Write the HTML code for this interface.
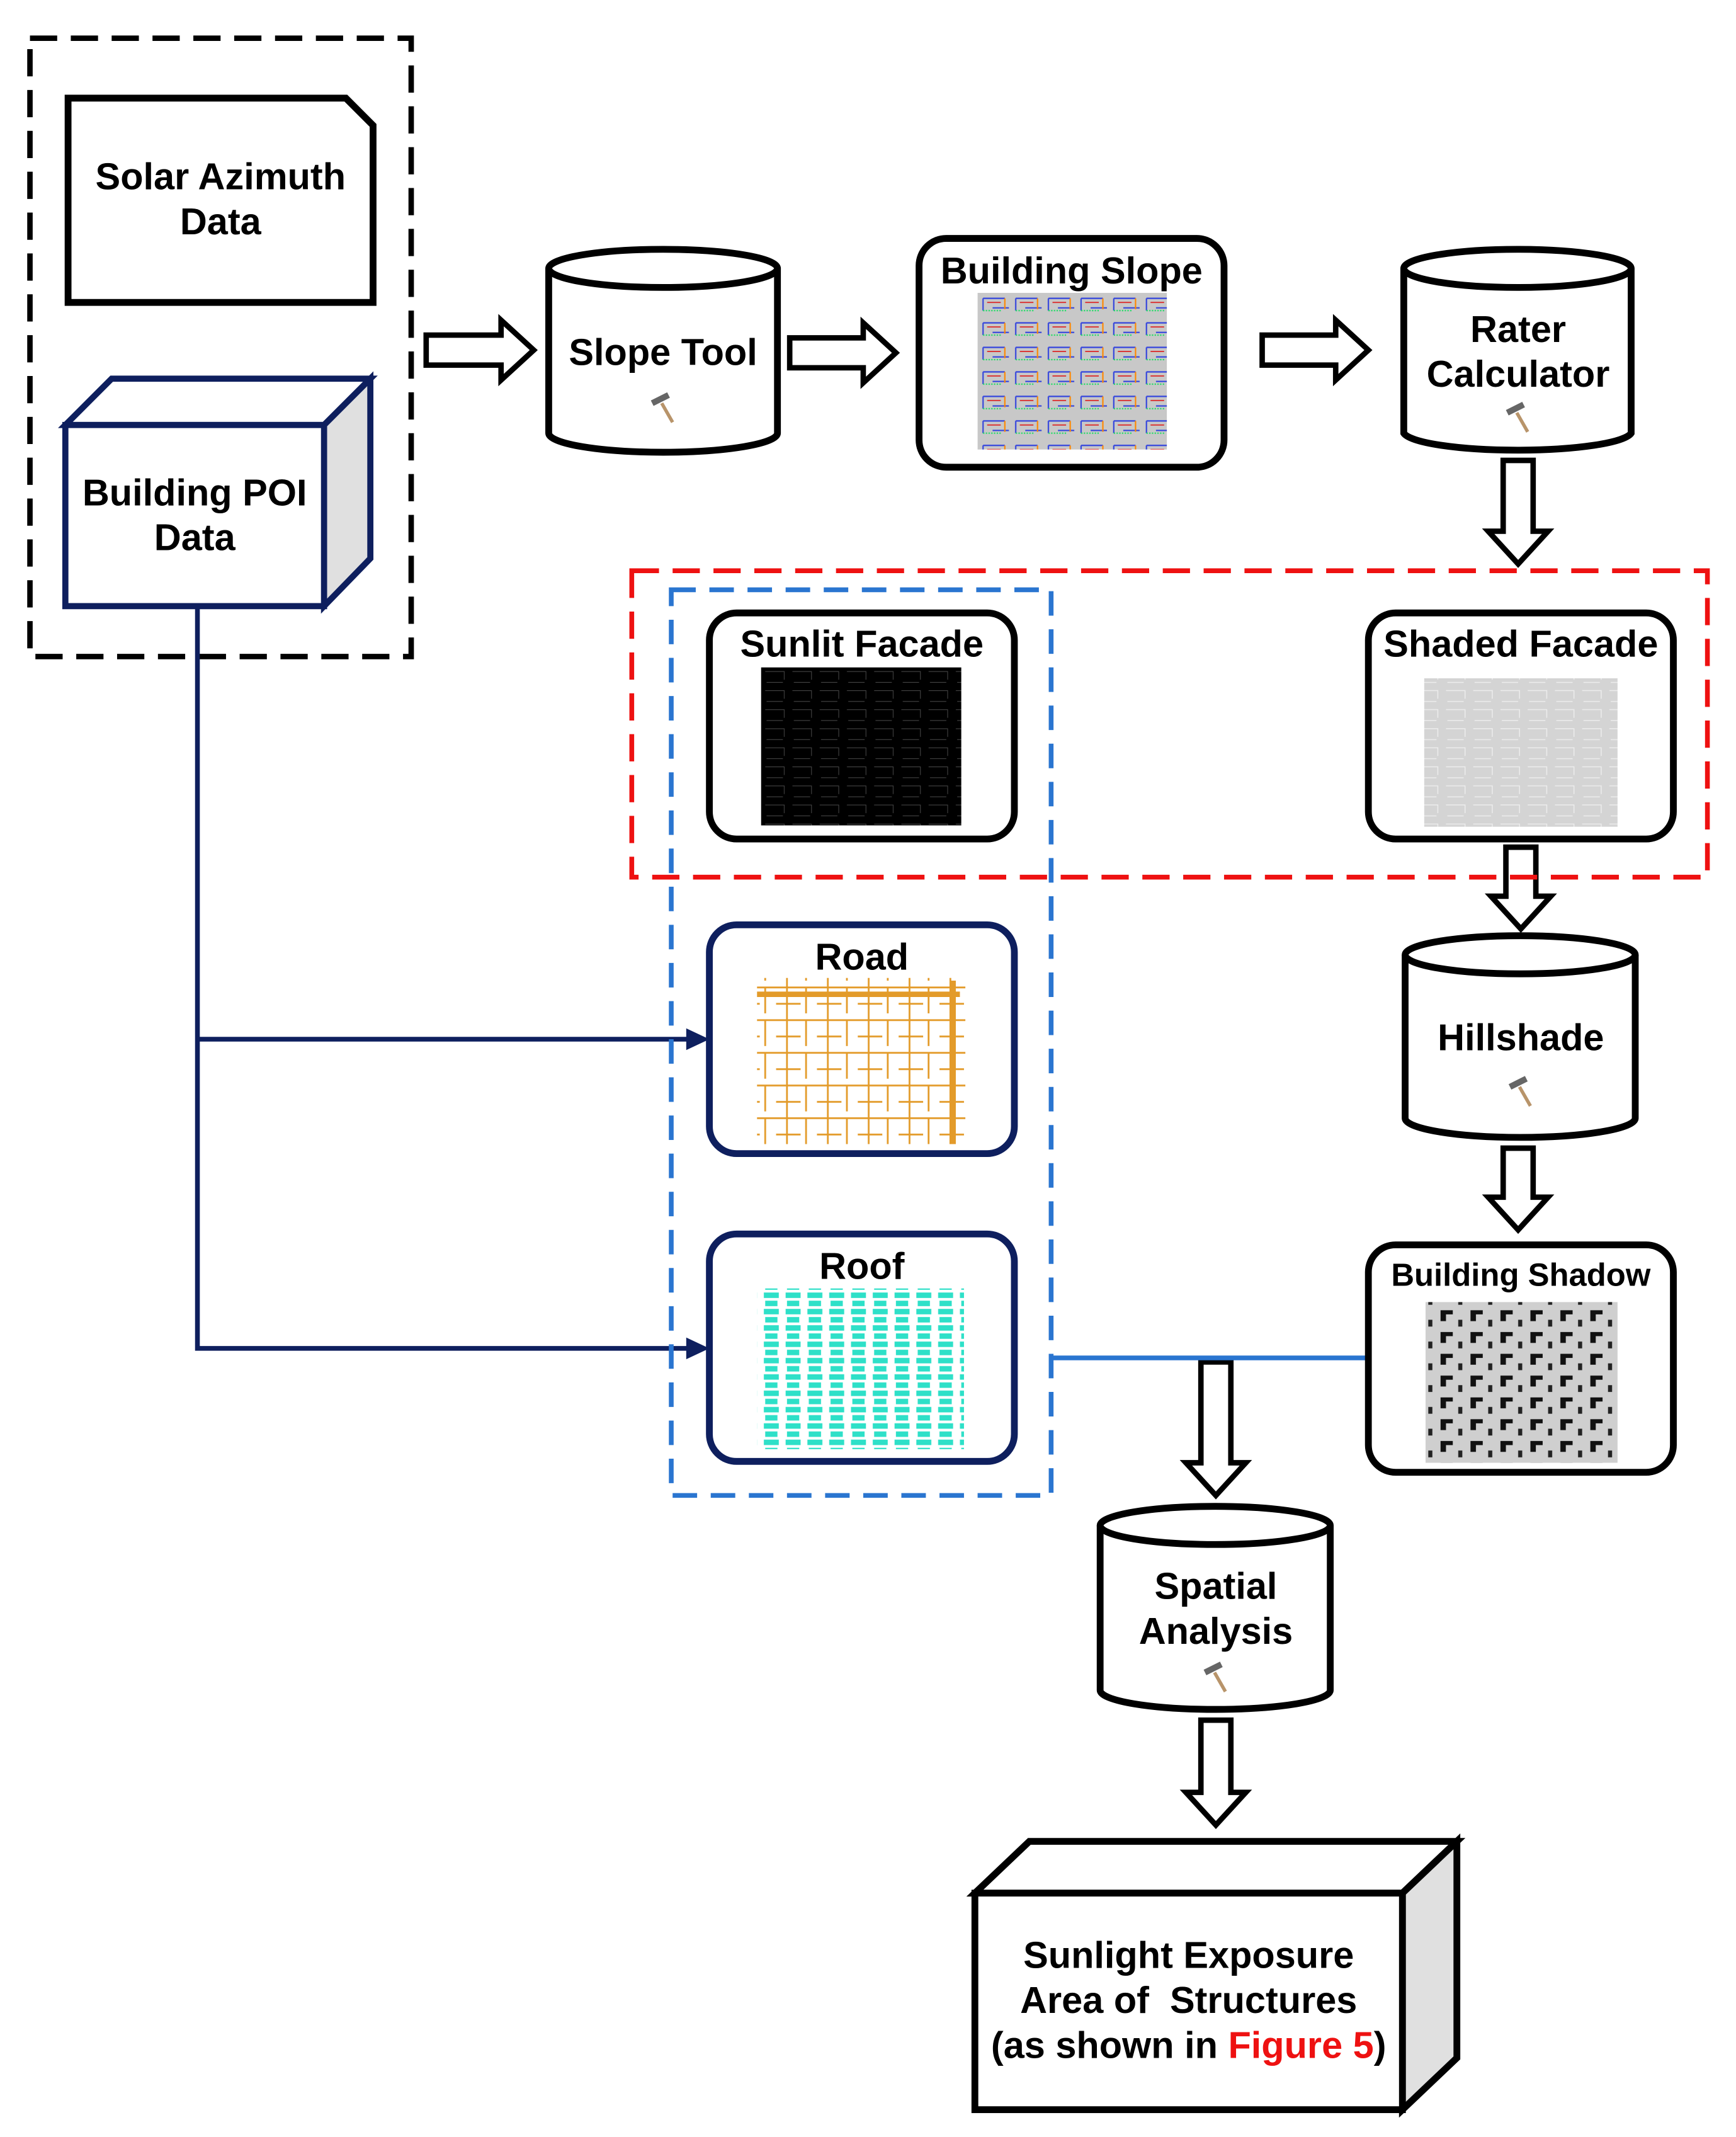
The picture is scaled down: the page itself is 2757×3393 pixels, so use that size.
<!DOCTYPE html>
<html><head><meta charset="utf-8"><style>
html,body{margin:0;padding:0;background:#fff}
svg{display:block}
text{font-family:"Liberation Sans",Arial,sans-serif;font-weight:bold;fill:#000}
</style></head><body>
<svg width="2757" height="3393" viewBox="0 0 1275 1569" xmlns="http://www.w3.org/2000/svg">
<defs>
<pattern id="slope" width="24" height="18" patternUnits="userSpaceOnUse">
<rect width="24" height="18" fill="#c8c8c8"/>
<path d="M2 3h16M2 3v9M9 10h12" stroke="#3344dd" stroke-width="1"/>
<path d="M2 12h14" stroke="#22dd66" stroke-width="1" stroke-dasharray="1 1"/>
<path d="M18 3v8" stroke="#ff8800" stroke-width="1"/>
<path d="M5 6h10" stroke="#dd2222" stroke-width="0.8"/>
</pattern>
<pattern id="sunlit" width="20" height="14" patternUnits="userSpaceOnUse">
<rect width="20" height="14" fill="#000"/>
<path d="M2 3h14v6M3 11h12" stroke="#444" stroke-width="0.5" fill="none"/>
</pattern>
<pattern id="shaded" width="20" height="14" patternUnits="userSpaceOnUse">
<rect width="20" height="14" fill="#d4d4d4"/>
<path d="M2 3h14v6M3 11h12" stroke="#ededed" stroke-width="0.7" fill="none"/>
</pattern>
<pattern id="road" width="30" height="24" patternUnits="userSpaceOnUse">
<rect width="30" height="24" fill="#fff"/>
<path d="M0 5h30M8 0v24M0 17h18M22 5v19" stroke="#e39b2a" stroke-width="1.3" fill="none"/>
</pattern>
<pattern id="roof" width="16" height="12" patternUnits="userSpaceOnUse">
<rect width="16" height="12" fill="#fff"/>
<rect x="1" y="1" width="11" height="4" fill="#2ee0c8"/>
<rect x="2" y="7" width="9" height="4" fill="#2ee0c8"/>
</pattern>
<pattern id="shadow" width="22" height="16" patternUnits="userSpaceOnUse">
<rect width="22" height="16" fill="#cfcfcf"/>
<path d="M2 2h9v3h-5v5h-4z" fill="#111"/>
<rect x="15" y="9" width="3" height="5" fill="#222"/>
</pattern>
<g id="hammer">
<line x1="0" y1="-4" x2="8" y2="10" stroke="#b8946a" stroke-width="2.5"/>
<path d="M-8 -6 L4 -12 L6 -8 L-6 -2 Z" fill="#666"/>
</g>
</defs>

<g fill="none" stroke="#000" stroke-width="4">
<rect x="22" y="28" width="280" height="454" stroke-dasharray="20 10"/>
<path d="M50 72 H254 L274 92 V222 H50 Z" stroke-width="5"/>
</g>
<text x="162" y="139" font-size="27.5" text-anchor="middle">Solar Azimuth</text>
<text x="162" y="172" font-size="27.5" text-anchor="middle">Data</text>

<g stroke="#0e1f5e" stroke-width="4.5" stroke-linejoin="miter">
<path d="M48 312 L82 278 H272 L238 312 Z" fill="#fff"/>
<path d="M238 312 L272 278 V410 L238 445 Z" fill="#e0e0e0"/>
<rect x="48" y="312" width="190" height="133" fill="#fff"/>
</g>
<text x="143" y="371" font-size="27.5" text-anchor="middle">Building POI</text>
<text x="143" y="404" font-size="27.5" text-anchor="middle">Data</text>

<g stroke="#0e1f5e" stroke-width="3.5" fill="none">
<path d="M145 447 V990 H508"/>
<path d="M145 763 H508"/>
</g>
<path d="M504 755 L521 763 L504 771 Z M504 982 L521 990 L504 998 Z" fill="#0e1f5e"/>

<g fill="#fff" stroke="#000" stroke-width="4" stroke-linejoin="miter">
<path d="M313 246 H368 V235 L392 257 L368 279 V268 H313 Z"/>
<path d="M580 248 H634 V237 L658 259 L634 281 V270 H580 Z"/>
<path d="M927 246 H981 V235 L1005 257 L981 279 V268 H927 Z"/>
<path d="M1104 338 V390 H1093 L1115 414 L1137 390 H1126 V338 Z"/>
<path d="M1106 622 V658 H1095 L1117 682 L1139 658 H1128 V622 Z"/>
<path d="M1104 843 V879 H1093 L1115 903 L1137 879 H1126 V843 Z"/>
<path d="M882 1000 V1074 H871 L893 1098 L915 1074 H904 V1000 Z"/>
<path d="M882 1263 V1316 H871 L893 1340 L915 1316 H904 V1263 Z"/>
</g>

<g fill="#fff" stroke="#000" stroke-width="5">
<path d="M403 197 V318 A84 14 0 0 0 571 318 V197"/>
<ellipse cx="487" cy="197" rx="84" ry="14"/>
<path d="M1031 197 V318 A84 14 0 0 0 1198 318 V197"/>
<ellipse cx="1114.5" cy="197" rx="83.5" ry="14"/>
<path d="M1032 701 V821 A84 14 0 0 0 1201 821 V701"/>
<ellipse cx="1116.5" cy="701" rx="84.5" ry="14"/>
<path d="M808 1120 V1241 A84 14 0 0 0 977 1241 V1120"/>
<ellipse cx="892.5" cy="1120" rx="84.5" ry="14"/>
</g>
<text x="487" y="268" font-size="27.5" text-anchor="middle">Slope Tool</text>
<use href="#hammer" x="486" y="300"/>
<text x="1115" y="251" font-size="27.5" text-anchor="middle">Rater</text>
<text x="1115" y="284" font-size="27.5" text-anchor="middle">Calculator</text>
<use href="#hammer" x="1114" y="307"/>
<text x="1117" y="771" font-size="27.5" text-anchor="middle">Hillshade</text>
<use href="#hammer" x="1116" y="802"/>
<text x="893" y="1174" font-size="27.5" text-anchor="middle">Spatial</text>
<text x="893" y="1207" font-size="27.5" text-anchor="middle">Analysis</text>
<use href="#hammer" x="892" y="1232"/>

<rect x="675" y="175" width="224" height="168" rx="20" fill="#fff" stroke="#000" stroke-width="5"/>
<text x="787" y="208" font-size="27.5" text-anchor="middle">Building Slope</text>
<rect x="718" y="215" width="139" height="115" fill="url(#slope)"/>

<rect x="464" y="419" width="790" height="225" fill="none" stroke="#ee1111" stroke-width="3.5" stroke-dasharray="20 10"/>
<rect x="493" y="433" width="279" height="665" fill="none" stroke="#2a75d0" stroke-width="3.5" stroke-dasharray="18 10"/>

<rect x="521" y="450" width="224" height="166" rx="20" fill="#fff" stroke="#000" stroke-width="5"/>
<text x="633" y="482" font-size="27.5" text-anchor="middle">Sunlit Facade</text>
<rect x="559" y="490" width="147" height="116" fill="url(#sunlit)"/>
<rect x="1005" y="450" width="224" height="166" rx="20" fill="#fff" stroke="#000" stroke-width="5"/>
<text x="1117" y="482" font-size="27.5" text-anchor="middle">Shaded Facade</text>
<rect x="1046" y="498" width="142" height="109" fill="url(#shaded)"/>

<rect x="521" y="679" width="224" height="168" rx="20" fill="#fff" stroke="#0e1f5e" stroke-width="5"/>
<text x="633" y="712" font-size="27.5" text-anchor="middle">Road</text>
<rect x="556" y="718" width="153" height="122" fill="url(#road)"/>
<path d="M556 730 H705 M700 720 V840" stroke="#e39b2a" stroke-width="4"/>
<rect x="521" y="906" width="224" height="167" rx="20" fill="#fff" stroke="#0e1f5e" stroke-width="5"/>
<text x="633" y="939" font-size="27.5" text-anchor="middle">Roof</text>
<rect x="556" y="946" width="152" height="118" fill="url(#roof)"/>

<line x1="772" y1="997" x2="1005" y2="997" stroke="#2a75d0" stroke-width="3.5"/>

<rect x="1005" y="914" width="224" height="167" rx="20" fill="#fff" stroke="#000" stroke-width="5"/>
<text x="1117" y="944" font-size="23.5" text-anchor="middle">Building Shadow</text>
<rect x="1047" y="956" width="141" height="118" fill="url(#shadow)"/>

<g stroke="#000" stroke-width="5">
<path d="M716 1390 L756 1352 H1070 L1030 1390 Z" fill="#fff"/>
<path d="M1030 1390 L1070 1352 V1511 L1030 1549 Z" fill="#e0e0e0"/>
<rect x="716" y="1390" width="314" height="159" fill="#fff"/>
</g>
<text x="873" y="1445" font-size="27.5" text-anchor="middle">Sunlight Exposure</text>
<text x="873" y="1478" font-size="27.5" text-anchor="middle" xml:space="preserve">Area of  Structures</text>
<text x="873" y="1511" font-size="27.5" text-anchor="middle">(as shown in <tspan fill="#ee1111">Figure 5</tspan>)</text>
</svg>
</body></html>
